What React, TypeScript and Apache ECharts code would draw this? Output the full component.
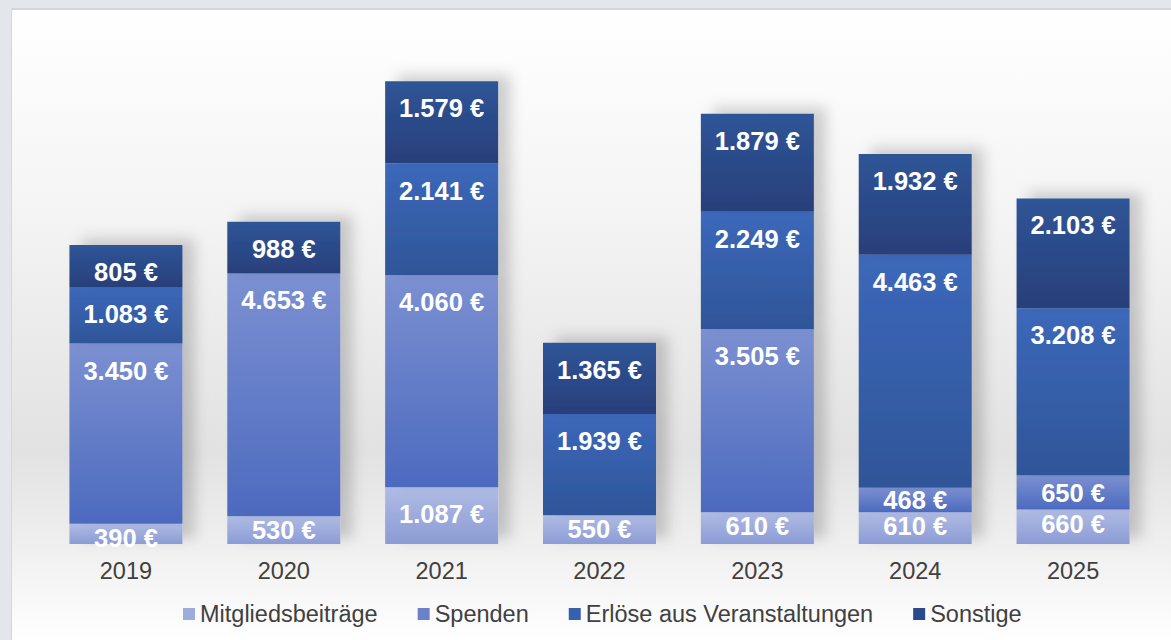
import React, { useEffect, useRef } from "react";
import * as echarts from "echarts";

const years = ["2019", "2020", "2021", "2022", "2023", "2024", "2025"];
const mitglied = [390, 530, 1087, 550, 610, 610, 660];
const spenden = [3450, 4653, 4060, 0, 3505, 468, 650];
const erloese = [1083, 0, 2141, 1939, 2249, 4463, 3208];
const sonstige = [805, 988, 1579, 1365, 1879, 1932, 2103];
const seriesNames = ["Mitgliedsbeiträge", "Spenden", "Erlöse aus Veranstaltungen", "Sonstige"];

const grad = (a: string, b: string) =>
  new echarts.graphic.LinearGradient(0, 0, 0, 1, [
    { offset: 0, color: a },
    { offset: 1, color: b },
  ]);

const fmt = (v: number) => String(v).replace(/\B(?=(\d{3})+(?!\d))/g, ".") + " €";

export default function App() {
  const ref = useRef<HTMLDivElement>(null);
  useEffect(() => {
    document.body.style.margin = "0";
    const chart = echarts.init(ref.current!, null, { renderer: "svg" });
    const colors = [
      ["#b0bce4", "#8b9bd5"],
      ["#7c90d1", "#4c6abf"],
      ["#3c68ba", "#2f5598"],
      ["#2f5597", "#283f7a"],
    ];
    const legendColors = ["#9eacdd", "#6b82cb", "#3760b0", "#2b4a8c"];
    const all = [mitglied, spenden, erloese, sonstige];
    const series = all.map((arr, i) => ({
      name: seriesNames[i],
      type: "bar",
      stack: "total",
      barWidth: 113,
      itemStyle: {
        color: grad(colors[i][0], colors[i][1]),
        shadowColor: "rgba(0,0,0,0.18)",
        shadowBlur: 14,
        shadowOffsetX: 12,
        shadowOffsetY: -6,
      },
      label: {
        show: true,
        color: "#ffffff",
        fontFamily: "Liberation Sans, Arial, sans-serif",
        fontWeight: "bold",
        fontSize: 25.5,
        lineHeight: 24,
        formatter: (p: any) => (p.value ? fmt(p.value) : ""),
      },
      data: arr.map((v) => ({
        value: v,
        label: v === 0
          ? { show: false }
          : v < 700 && i > 0
          ? { position: "inside" }
          : { position: "insideTop", distance: v < 700 ? 2 : 15 },
      })),
    }));

    chart.setOption({
      animation: false,
      graphic: [
        { type: "rect", shape: { x: 0, y: 0, width: 1171, height: 640 }, style: { fill: "#e3e6ea" }, z: -10 },
        { type: "rect", shape: { x: 11, y: 8, width: 1160, height: 632 }, style: { fill: "#d3d6da" }, z: -10 },
        {
          type: "rect",
          shape: { x: 12, y: 10, width: 1159, height: 630 },
          style: {
            fill: new echarts.graphic.LinearGradient(0, 0, 0, 1, [
              { offset: 0, color: "#ffffff" },
              { offset: 0.3, color: "#f5f5f5" },
              { offset: 0.7, color: "#e2e2e2" },
              { offset: 0.86, color: "#f0f0f0" },
              { offset: 1, color: "#ffffff" },
            ]),
          },
          z: -10,
        },
      ],
      legend: {
        data: seriesNames.map((n, i) => ({ name: n, itemStyle: { color: legendColors[i] } })),
        left: 178,
        top: 597,
        icon: "rect",
        itemWidth: 12,
        itemHeight: 12,
        itemGap: 40,
        textStyle: { color: "#404040", fontSize: 23.5, fontFamily: "Liberation Sans, Arial, sans-serif" },
      },
      grid: { left: 47, right: 19, top: 22, bottom: 96 },
      xAxis: {
        type: "category",
        data: years,
        axisLine: { show: false },
        axisTick: { show: false },
        axisLabel: { color: "#404040", fontSize: 23.5, margin: 15, fontFamily: "Liberation Sans, Arial, sans-serif" },
      },
      yAxis: { type: "value", min: 0, max: 10000, show: false, splitLine: { show: false } },
      series,
    });
    return () => chart.dispose();
  }, []);
  return <div ref={ref} style={{ width: 1171, height: 640 }} />;
}
